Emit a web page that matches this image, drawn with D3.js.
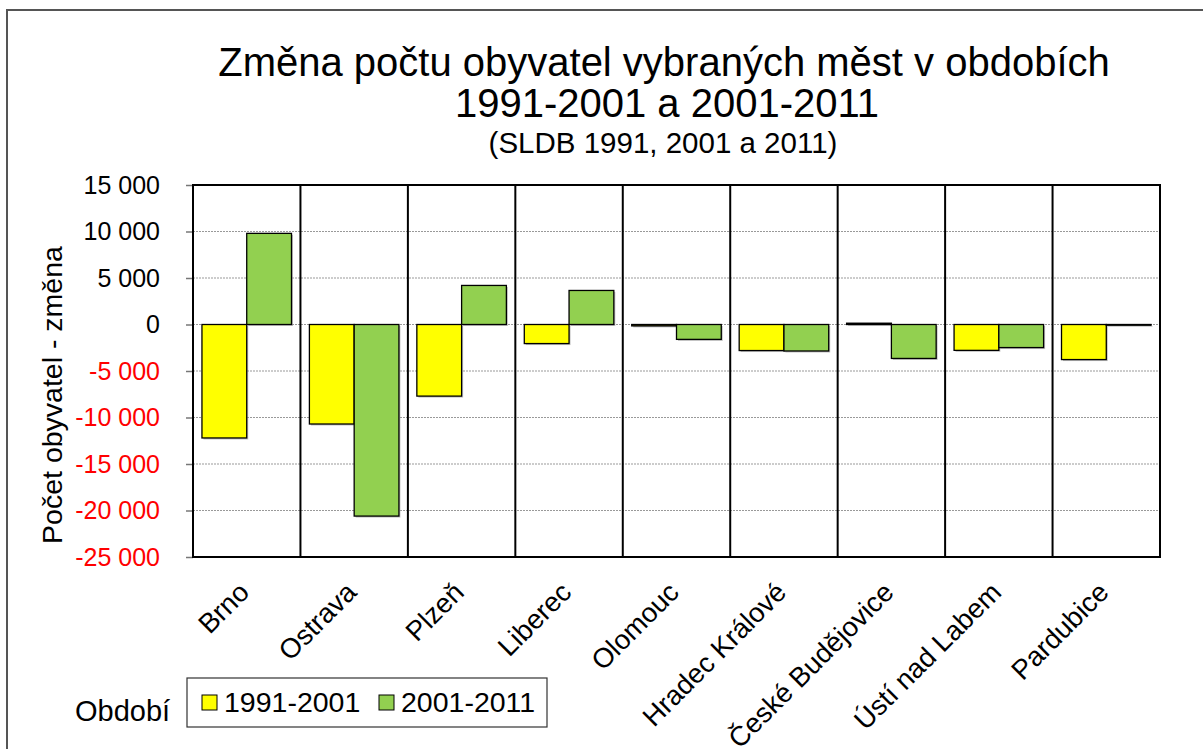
<!DOCTYPE html>
<html>
<head>
<meta charset="utf-8">
<script src="https://cdn.jsdelivr.net/npm/d3@7"></script>
<style>
  body { margin: 0; background: #fff; }
  svg text { font-family: "Liberation Sans", Arial, sans-serif; }
</style>
</head>
<body>
<div id="chart"></div>
<script>
// data
var cities = ["Brno", "Ostrava", "Plzeň", "Liberec", "Olomouc", "Hradec Králové", "České Budějovice", "Ústí nad Labem", "Pardubice"];
var periods = ["1991-2001", "2001-2011"];
var change9101 = [-12200, -10700, -7700, -2050, -150, -2800, 140, -2780, -3770];
var change0111 = [9800, -20600, 4200, 3660, -1600, -2850, -3650, -2480, -80];
var yTicks = [-25000, -20000, -15000, -10000, -5000, 0, 5000, 10000, 15000];
var colors = ["#FFFF00", "#92D050"];

function init(){
    var w = 1203, h = 749;
    var left = 193, right = 1160, top = 185, bottom = 557;

    var svg = d3.select("#chart").append("svg")
        .attr("width", w).attr("height", h);

    // outer frame
    svg.append("rect")
        .attr("x", 7).attr("y", 10)
        .attr("width", w).attr("height", h)
        .attr("fill", "none").attr("stroke", "#555").attr("stroke-width", 2);

    var x0 = d3.scaleBand().domain(cities).range([left, right]);
    var x1 = d3.scaleBand().domain(periods).range([0, x0.bandwidth()]).paddingOuter(0.2);
    var y = d3.scaleLinear().domain([-25000, 15000]).range([bottom, top]);

    var cz = d3.formatLocale({decimal: ",", thousands: "\u00a0", grouping: [3], currency: ["", ""], minus: "-"});
    var fmt = cz.format(",");

    // gridlines
    svg.append("g").selectAll("line")
        .data(yTicks)
        .enter().append("line")
        .attr("x1", left).attr("x2", right)
        .attr("y1", function(d){ return y(d); })
        .attr("y2", function(d){ return y(d); })
        .attr("stroke", "#999")
        .attr("stroke-width", 1)
        .attr("stroke-dasharray", "2,1");

    // y axis
    var yAxis = d3.axisLeft(y).tickValues(yTicks).tickSize(7).tickPadding(26).tickFormat(fmt);
    var ga = svg.append("g").attr("transform", "translate(" + left + ",0)").call(yAxis);
    ga.select(".domain").remove();
    ga.selectAll(".tick line").attr("stroke", "#777").attr("stroke-width", 1.5);
    ga.selectAll(".tick text")
        .style("font-size", "25px")
        .attr("fill", function(d){ return d < 0 ? "#FF0000" : "#000"; });

    // bars
    var rows = cities.map(function(c, i){
        return {city: c, values: [change9101[i], change0111[i]]};
    });
    var groups = svg.append("g").selectAll("g")
        .data(rows)
        .enter().append("g")
        .attr("transform", function(d){ return "translate(" + x0(d.city) + ",0)"; });

    var bar = function(sel, dx, dy){
        return sel.selectAll(null)
            .data(function(d){ return d.values.map(function(v, j){ return {p: periods[j], v: v, j: j}; }); })
            .enter().append("rect")
            .attr("x", function(d){ return x1(d.p) + dx; })
            .attr("y", function(d){ return Math.min(y(d.v), y(0)) + dy; })
            .attr("width", x1.bandwidth())
            .attr("height", function(d){ return Math.abs(y(d.v) - y(0)); });
    };
    // shadow
    bar(groups, 1.5, 1.5).attr("fill", "#999").attr("opacity", 0.6);
    bar(groups, 0, 0)
        .attr("fill", function(d){ return colors[d.j]; })
        .attr("stroke", "#000").attr("stroke-width", 1.3);

    // category separators
    svg.append("g").selectAll("line")
        .data(cities.slice(1))
        .enter().append("line")
        .attr("x1", function(d){ return x0(d); })
        .attr("x2", function(d){ return x0(d); })
        .attr("y1", top).attr("y2", bottom)
        .attr("stroke", "#000").attr("stroke-width", 2);

    // plot frame
    svg.append("rect")
        .attr("x", left).attr("y", top)
        .attr("width", right - left).attr("height", bottom - top)
        .attr("fill", "none").attr("stroke", "#000").attr("stroke-width", 2);

    // x labels
    svg.append("g").selectAll("text")
        .data(cities)
        .enter().append("text")
        .attr("transform", function(d){
            return "translate(" + (x0(d) + x0.bandwidth() / 2 + 4) + "," + (bottom + 37) + ") rotate(-45)";
        })
        .attr("text-anchor", "end")
        .style("font-size", "27.5px")
        .text(function(d){ return d; });

    // y title
    svg.append("text")
        .attr("transform", "translate(62,395) rotate(-90)")
        .attr("text-anchor", "middle")
        .style("font-size", "28.5px")
        .text("Počet obyvatel - změna");

    // titles
    svg.append("text").attr("x", 664).attr("y", 76).attr("text-anchor", "middle")
        .style("font-size", "40px").text("Změna počtu obyvatel vybraných měst v obdobích");
    svg.append("text").attr("x", 667).attr("y", 117).attr("text-anchor", "middle")
        .style("font-size", "40px").text("1991-2001 a 2001-2011");
    svg.append("text").attr("x", 663).attr("y", 153).attr("text-anchor", "middle")
        .style("font-size", "29.5px").text("(SLDB 1991, 2001 a 2011)");

    // legend
    svg.append("text").attr("x", 75).attr("y", 721).style("font-size", "29px").text("Období");
    svg.append("rect").attr("x", 187).attr("y", 678).attr("width", 360).attr("height", 49)
        .attr("fill", "#fff").attr("stroke", "#333").attr("stroke-width", 1.2);
    var legX = [202, 379];
    var lg = svg.append("g").selectAll("g")
        .data(periods)
        .enter().append("g")
        .attr("transform", function(d, i){ return "translate(" + legX[i] + ",0)"; });
    lg.append("rect").attr("x", 0).attr("y", 695).attr("width", 15).attr("height", 15)
        .attr("fill", function(d, i){ return colors[i]; })
        .attr("stroke", "#000").attr("stroke-width", 1);
    lg.append("text").attr("x", 22).attr("y", 712).style("font-size", "28.5px")
        .text(function(d){ return d; });
}
window.onload = init;
</script>
</body>
</html>
